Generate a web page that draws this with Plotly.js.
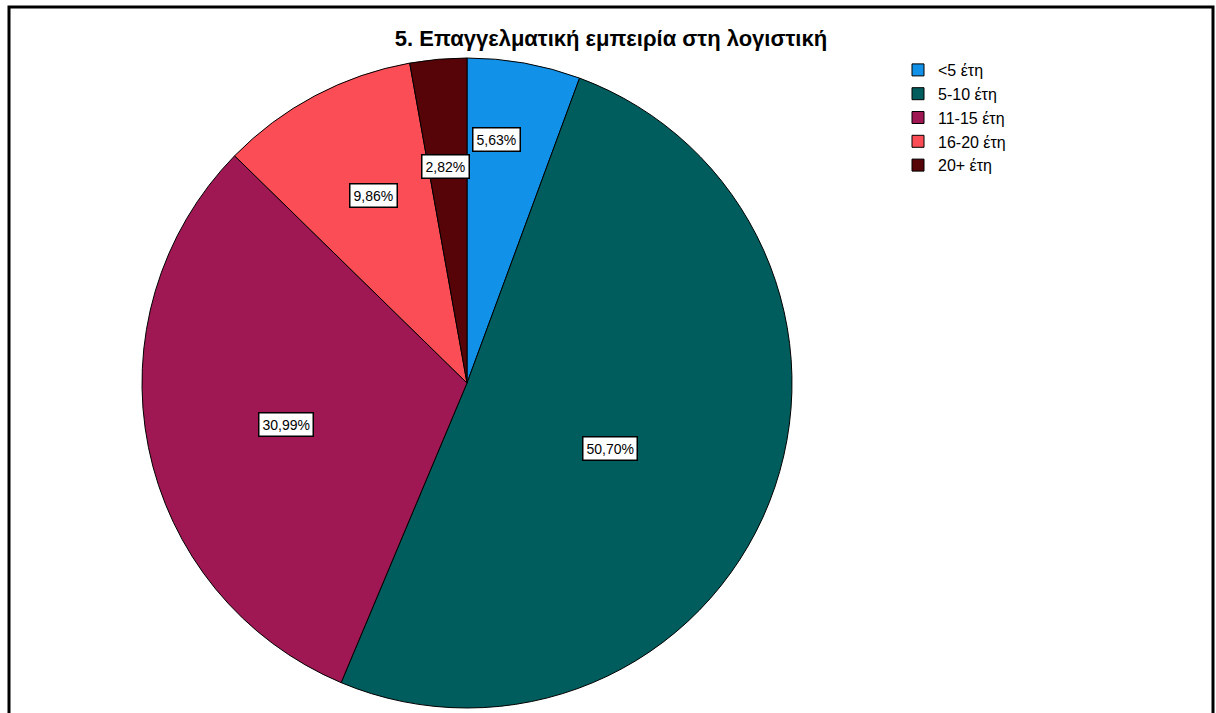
<!DOCTYPE html>
<html>
<head>
<meta charset="utf-8">
<script src="https://cdn.plot.ly/plotly-3.0.1.min.js"></script>
<style>html,body{margin:0;padding:0;background:#fff;}#chart{width:1216px;height:713px;}</style>
</head>
<body>
<div id="chart"></div>
<script>
// Data
const categories = ["<5 έτη", "5-10 έτη", "11-15 έτη", "16-20 έτη", "20+ έτη"];
const percents = [5.63, 50.70, 30.99, 9.86, 2.82];
const percentLabels = ["5,63%", "50,70%", "30,99%", "9,86%", "2,82%"];
const titleText = "5. Επαγγελματική εμπειρία στη λογιστική";

// Style
const colors = ["#1192e8", "#005d5d", "#9f1853", "#fa4d56", "#570408"];
const labelRadius = [0.754, 0.483, 0.572, 0.646, 0.668];
const labelAngleShift = [-3.2, 3.0, -1.6, 1.4, -0.5];

const W = 1216, H = 713;
const cx = 467, cy = 383, R = 325;
const domX = [(cx - R) / W, (cx + R) / W];
const domY = [(H - cy - R) / H, (H - cy + R) / H];

const total = percents.reduce((a, b) => a + b, 0);
let cum = 0;
const annotations = percents.map((v, i) => {
  const mid = (cum + v / 2) / total * 360 + labelAngleShift[i];
  cum += v;
  const a = mid * Math.PI / 180;
  const r = R * labelRadius[i];
  const px = cx + r * Math.sin(a);
  const py = cy - r * Math.cos(a);
  return {
    x: px / W, y: 1 - py / H, xref: "paper", yref: "paper",
    text: percentLabels[i], showarrow: false,
    font: {family: "Liberation Sans, Arial, sans-serif", size: 14, color: "#000"},
    bgcolor: "#ffffff", bordercolor: "#000000", borderwidth: 1.5, borderpad: 3,
    xanchor: "center", yanchor: "middle"
  };
});

const trace = {
  type: "pie",
  labels: categories,
  values: percents,
  sort: false,
  direction: "clockwise",
  rotation: 0,
  textinfo: "none",
  hoverinfo: "label+percent",
  marker: {colors: colors, line: {color: "#000", width: 1}},
  domain: {x: domX, y: domY},
  showlegend: true
};

const layout = {
  width: W, height: H,
  margin: {l: 0, r: 0, t: 0, b: 0},
  paper_bgcolor: "#fff",
  title: {
    text: "<b>" + titleText + "</b>",
    font: {family: "Liberation Sans, Arial, sans-serif", size: 22, color: "#000"},
    x: 611 / W, xanchor: "center", xref: "paper",
    y: 1 - 38 / H, yanchor: "middle", yref: "paper"
  },
  legend: {
    x: 898 / W, xanchor: "left", y: 1 - 53 / H, yanchor: "top",
    font: {family: "Liberation Sans, Arial, sans-serif", size: 16, color: "#000"},
    tracegroupgap: 0, traceorder: "normal"
  },
  annotations: annotations,
  shapes: [{
    type: "rect", xref: "paper", yref: "paper",
    x0: 9 / W, x1: 1213 / W, y0: -0.05, y1: 1 - 7 / H,
    line: {color: "#000", width: 3}, fillcolor: "rgba(0,0,0,0)", layer: "above"
  }]
};

Plotly.newPlot("chart", [trace], layout, {displayModeBar: false, staticPlot: true});
</script>
</body>
</html>
